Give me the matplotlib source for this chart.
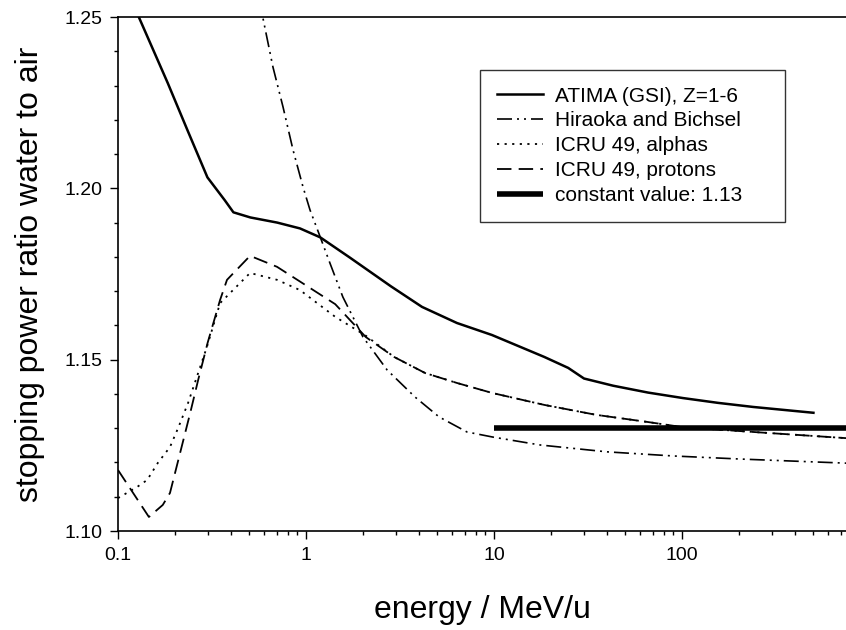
import numpy as np
import matplotlib
matplotlib.use("Agg")
import matplotlib.pyplot as plt
from matplotlib.ticker import LogLocator, NullFormatter, MultipleLocator

plt.rcParams['font.family'] = ['Liberation Sans', 'DejaVu Sans']

# ATIMA (GSI), Z=1-6
atima_e = [0.1, 0.129, 0.184, 0.234, 0.299, 0.37, 0.411, 0.506, 0.703, 0.929, 1.19,
           1.71, 2.83, 4.14, 6.35, 9.75, 18.5, 24.8, 30.1, 43.0, 65.9, 101,
           155, 239, 500]
atima_r = [1.264, 1.25, 1.2307, 1.217, 1.2032, 1.1965, 1.193, 1.1915, 1.190, 1.1883,
           1.1857, 1.1798, 1.1714, 1.1654, 1.1607, 1.1572, 1.1508, 1.1476,
           1.1445, 1.1424, 1.1404, 1.1388, 1.1374, 1.1362, 1.1345]

# Hiraoka and Bichsel
hb_e = [0.55, 0.59, 0.667, 0.755, 0.853, 0.964, 1.05, 1.19, 1.34, 1.57, 2.01, 2.70,
        3.80, 5.10, 7.18, 9.88, 17.6, 39.9, 89.6, 204, 745]
hb_r = [1.259, 1.2497, 1.2354, 1.2237, 1.2112, 1.2004, 1.1937, 1.1858, 1.1782, 1.1683,
        1.1566, 1.147, 1.1391, 1.1333, 1.1289, 1.1274, 1.1251, 1.1231, 1.1219, 1.121,
        1.1198]

# ICRU 49, protons
prot_e = [0.1, 0.146, 0.157, 0.173, 0.189, 0.214, 0.242, 0.267, 0.3, 0.349, 0.38,
          0.504, 0.701, 0.929, 1.43, 2.08, 2.94, 4.30, 6.35, 9.75, 18.5, 34.9, 65.9,
          101, 239, 745]
prot_r = [1.1178, 1.1041, 1.1056, 1.1076, 1.1111, 1.1228, 1.1344, 1.1441, 1.155,
          1.1674, 1.1733, 1.1803, 1.1771, 1.1728, 1.1662, 1.1566, 1.1508, 1.1461,
          1.1432, 1.1403, 1.1368, 1.1339, 1.1318, 1.1303, 1.1289, 1.1271]

# ICRU 49, alphas
alpha_e = [0.1, 0.126, 0.143, 0.163, 0.189, 0.209, 0.236, 0.297, 0.349, 0.409, 0.504,
           0.701, 0.929, 1.43, 2.08, 2.94, 4.30, 6.35, 9.75, 18.5, 34.9, 65.9, 101,
           239, 745]
alpha_r = [1.1096, 1.1128, 1.1149, 1.1199, 1.1245, 1.1301, 1.1374, 1.1537, 1.1665,
           1.1703, 1.1753, 1.1733, 1.1703, 1.1625, 1.157, 1.1508, 1.1461, 1.1432,
           1.1403, 1.1368, 1.1339, 1.1318, 1.1303, 1.1289, 1.1271]

# constant value
const_e = [10, 1000]
const_r = [1.13, 1.13]

fig = plt.figure(figsize=(8.46, 6.30), dpi=100)
ax = fig.add_axes([118 / 846, 1 - 531 / 630, 1 - 118 / 846, (531 - 17) / 630])

ax.plot(atima_e, atima_r, color='black', lw=1.8, label='ATIMA (GSI), Z=1-6')
ax.plot(hb_e, hb_r, color='black', lw=1.2, ls=(0, (9, 3, 1.2, 3, 1.2, 3)),
        label='Hiraoka and Bichsel')
ax.plot(alpha_e, alpha_r, color='black', lw=1.3, ls=(0, (1.2, 3)),
        label='ICRU 49, alphas')
ax.plot(prot_e, prot_r, color='black', lw=1.3, ls=(0, (8, 4)),
        label='ICRU 49, protons')
ax.plot(const_e, const_r, color='black', lw=4, solid_capstyle='butt',
        label='constant value: 1.13')

ax.set_xscale('log')
ax.set_xlim(0.1, 745)
ax.set_ylim(1.10, 1.25)

ax.set_xticks([0.1, 1, 10, 100])
ax.set_xticklabels(['0.1', '1', '10', '100'])
ax.xaxis.set_minor_locator(LogLocator(base=10, subs=np.arange(2, 10)))
ax.xaxis.set_minor_formatter(NullFormatter())
ax.set_yticks([1.10, 1.15, 1.20, 1.25])
ax.set_yticklabels(['1.10', '1.15', '1.20', '1.25'])
ax.yaxis.set_minor_locator(MultipleLocator(0.01))

ax.tick_params(which='major', direction='out', length=5.5, width=1,
               labelsize=14, pad=6)
ax.tick_params(which='minor', direction='out', length=3, width=1)

ax.spines['right'].set_visible(False)
for s in ['left', 'bottom', 'top']:
    ax.spines[s].set_linewidth(1.2)

ax.set_xlabel('energy / MeV/u', fontsize=23, labelpad=22)
ax.set_ylabel('stopping power ratio water to air', fontsize=23, labelpad=14)

# legend box spans roughly x 480..785 px, top at 70 px
x0 = (480 - 118) / 728
w = (785 - 480) / 728
top = 1 - (70 - 17) / 514
leg = ax.legend(loc='upper left', bbox_to_anchor=(x0, top - 0.3, w, 0.3),
                mode='expand', fontsize=15, frameon=True, fancybox=False,
                borderpad=0.8, labelspacing=0.28, handlelength=2.2,
                handletextpad=0.6, borderaxespad=0)
leg.get_frame().set_edgecolor('black')
leg.get_frame().set_linewidth(1.0)

fig.savefig('out.png', dpi=100)
